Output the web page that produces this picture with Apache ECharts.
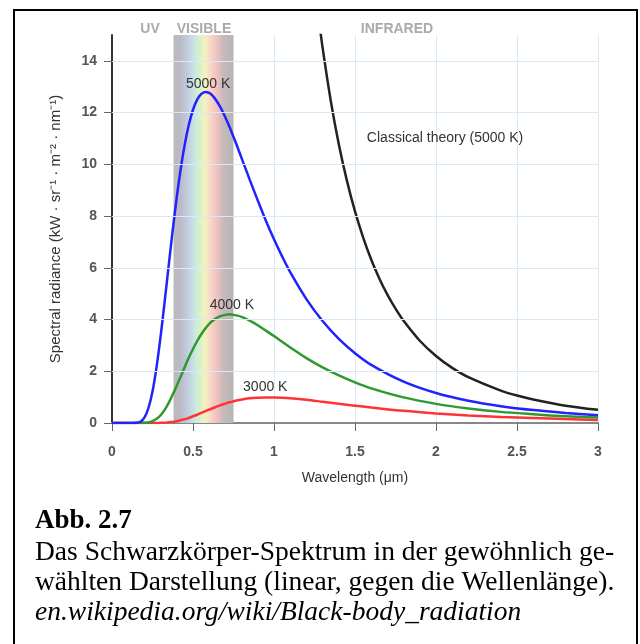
<!DOCTYPE html>
<html>
<head>
<meta charset="utf-8">
<script src="https://cdn.jsdelivr.net/npm/echarts@6/dist/echarts.min.js"></script>
<style>
    html, body { margin: 0; padding: 0; background: #fff; }
    #chart { width: 640px; height: 644px; }
</style>
</head>
<body>
<div id="chart"></div>
<script>
// wavelengths in micrometres, radiance in kW / (sr m^2 nm)
var wavelength = [0, 0.1, 0.15, 0.175, 0.2, 0.225, 0.25, 0.275, 0.3, 0.325,
    0.35, 0.375, 0.4, 0.425, 0.45, 0.475, 0.5, 0.525, 0.55, 0.575,
    0.6, 0.625, 0.65, 0.675, 0.7, 0.725, 0.75, 0.775, 0.8, 0.85,
    0.9, 0.95, 1.0, 1.05, 1.1, 1.2, 1.3, 1.4, 1.5, 1.6,
    1.8, 2.0, 2.2, 2.4, 2.6, 2.8, 3.0];
var k5000 = [0, 0, 0.01, 0.05, 0.21, 0.58, 1.22, 2.16, 3.35, 4.69,
    6.09, 7.47, 8.74, 9.86, 10.80, 11.55, 12.11, 12.49, 12.71, 12.80,
    12.76, 12.63, 12.41, 12.14, 11.81, 11.45, 11.06, 10.66, 10.24, 9.41,
    8.60, 7.82, 7.10, 6.44, 5.83, 4.79, 3.94, 3.25, 2.70, 2.25,
    1.60, 1.16, 0.86, 0.65, 0.50, 0.39, 0.30];
var k4000 = [0, 0, 0, 0, 0.01, 0.02, 0.07, 0.16, 0.30, 0.51,
    0.78, 1.10, 1.45, 1.81, 2.18, 2.54, 2.86, 3.16, 3.42, 3.64,
    3.83, 3.97, 4.07, 4.14, 4.18, 4.20, 4.18, 4.15, 4.10, 3.96,
    3.78, 3.57, 3.36, 3.14, 2.92, 2.51, 2.15, 1.84, 1.57, 1.34,
    0.99, 0.74, 0.56, 0.43, 0.34, 0.26, 0.21];
var k3000 = [0, 0, 0, 0, 0, 0, 0, 0, 0.01, 0.01,
    0.03, 0.04, 0.07, 0.11, 0.15, 0.20, 0.26, 0.32, 0.39, 0.45,
    0.52, 0.58, 0.64, 0.70, 0.75, 0.80, 0.84, 0.88, 0.91, 0.96,
    0.98, 0.99, 0.99, 0.98, 0.96, 0.90, 0.82, 0.74, 0.67, 0.60,
    0.47, 0.37, 0.29, 0.23, 0.19, 0.15, 0.12];
var classicalWavelength = [1.27, 1.3, 1.35, 1.4, 1.45, 1.5, 1.55, 1.6, 1.65, 1.7, 1.75, 1.8, 1.9, 2.0, 2.1, 2.2, 2.4, 2.5, 2.6, 2.8, 3.0];
var classical = [15.93, 14.51, 12.47, 10.78, 9.37, 8.18, 7.18, 6.32, 5.59, 4.96, 4.42, 3.95, 3.18, 2.59, 2.13, 1.77, 1.25, 1.06, 0.91, 0.67, 0.51];
var yTicks = [0, 2, 4, 6, 8, 10, 12, 14];
var visibleBand = [0.38, 0.75];

var captionLines = [
    'Das Schwarzkörper-Spektrum in der gewöhnlich ge-',
    'wählten Darstellung (linear, gegen die Wellenlänge).'
];

function pairs(xs, ys) {
    var out = [];
    for (var i = 0; i < xs.length; i++) {
        out.push([xs[i], ys[i]]);
    }
    return out;
}

function curveLabel(text, x, y) {
    return {
        symbolSize: 0,
        silent: true,
        label: {
            show: true,
            position: 'inside',
            color: '#333',
            fontSize: 14,
            fontFamily: 'Liberation Sans',
            formatter: text
        },
        data: [{coord: [x, y]}]
    };
}

function curve(name, color, values, xs, labelAt) {
    return {
        name: name,
        type: 'line',
        smooth: 0.3,
        symbol: 'none',
        lineStyle: {color: color, width: 2.5},
        data: pairs(xs, values),
        markPoint: curveLabel(name, labelAt[0], labelAt[1])
    };
}

var sans = 'Liberation Sans';
var serif = '"Liberation Serif"';
var topLabelFont = 'bold 14px Liberation Sans';

var chart = echarts.init(document.getElementById('chart'));
var option = {
    animation: false,
    backgroundColor: '#fff',
    grid: {
        left: 112,
        right: 42,
        top: 35,
        bottom: 221
    },
    xAxis: {
        type: 'value',
        min: 0,
        max: 3,
        interval: 0.5,
        name: 'Wavelength (μm)',
        nameLocation: 'middle',
        nameGap: 48,
        nameTextStyle: {color: '#333', fontSize: 14, fontFamily: sans},
        axisLine: {lineStyle: {color: '#888', width: 2}},
        axisTick: {length: 8, lineStyle: {color: '#666'}},
        axisLabel: {margin: 22, color: '#555', fontSize: 14, fontWeight: 'bold', fontFamily: sans},
        splitLine: {lineStyle: {color: '#d8e8f4', width: 1}}
    },
    yAxis: {
        type: 'value',
        min: 0,
        max: 15,
        interval: 1,
        name: 'Spectral radiance (kW · sr⁻¹ · m⁻² · nm⁻¹)',
        nameLocation: 'middle',
        nameGap: 49,
        nameTextStyle: {color: '#333', fontSize: 15, fontFamily: sans},
        axisLine: {show: true, lineStyle: {color: '#333', width: 2}},
        axisTick: {show: true, length: 8, lineStyle: {color: '#666'}, customValues: yTicks},
        axisLabel: {margin: 15, color: '#555', fontSize: 14, fontWeight: 'bold', fontFamily: sans, customValues: yTicks},
        splitLine: {show: false}
    },
    graphic: [
        {
            type: 'rect',
            shape: {x: 14, y: 10, width: 623, height: 650},
            style: {fill: 'none', stroke: '#000', lineWidth: 2}
        },
        {type: 'text', x: 150, y: 29, style: {text: 'UV', fill: '#aaa', font: topLabelFont, textAlign: 'center', textVerticalAlign: 'middle'}},
        {type: 'text', x: 204, y: 29, style: {text: 'VISIBLE', fill: '#aaa', font: topLabelFont, textAlign: 'center', textVerticalAlign: 'middle'}},
        {type: 'text', x: 397, y: 29, style: {text: 'INFRARED', fill: '#aaa', font: topLabelFont, textAlign: 'center', textVerticalAlign: 'middle'}},
        {type: 'text', x: 35, y: 521, style: {text: 'Abb. 2.7', fill: '#000', font: 'bold 27px ' + serif, textVerticalAlign: 'middle'}},
        {type: 'text', x: 35, y: 553, style: {text: captionLines[0], fill: '#000', font: '27.5px ' + serif, textVerticalAlign: 'middle'}},
        {type: 'text', x: 35, y: 583, style: {text: captionLines[1], fill: '#000', font: '27.5px ' + serif, textVerticalAlign: 'middle'}},
        {type: 'text', x: 35, y: 613, style: {text: 'en.wikipedia.org/wiki/Black-body_radiation', fill: '#000', font: 'italic 27.5px ' + serif, textVerticalAlign: 'middle'}}
    ],
    series: [
        {
            // horizontal grid lines every 2 units and the visible band
            type: 'line',
            data: [],
            markLine: {
                silent: true,
                symbol: 'none',
                label: {show: false},
                lineStyle: {color: '#d8e8f4', width: 1, type: 'solid'},
                data: yTicks.slice(1).map(function (v) { return {yAxis: v}; })
            },
            markArea: {
                silent: true,
                itemStyle: {
                    color: new echarts.graphic.LinearGradient(0, 0, 1, 0, [
                        {offset: 0, color: '#b9b9b9'},
                        {offset: 0.12, color: '#bcbac8'},
                        {offset: 0.25, color: '#c2d0e2'},
                        {offset: 0.36, color: '#cae8e0'},
                        {offset: 0.45, color: '#dcf2c8'},
                        {offset: 0.53, color: '#f4f2c0'},
                        {offset: 0.62, color: '#f8d6c6'},
                        {offset: 0.72, color: '#f0c2c2'},
                        {offset: 0.82, color: '#c9baba'},
                        {offset: 1, color: '#b5b5b5'}
                    ])
                },
                data: [[{xAxis: visibleBand[0]}, {xAxis: visibleBand[1]}]]
            }
        },
        curve('3000 K', '#ff3333', k3000, wavelength, [0.946, 1.39]),
        curve('4000 K', '#2e9a2e', k4000, wavelength, [0.74, 4.56]),
        curve('5000 K', '#2222ff', k5000, wavelength, [0.593, 13.1]),
        curve('Classical theory (5000 K)', '#222', classical, classicalWavelength, [2.056, 11.0])
    ]
};
chart.setOption(option);
</script>
</body>
</html>
